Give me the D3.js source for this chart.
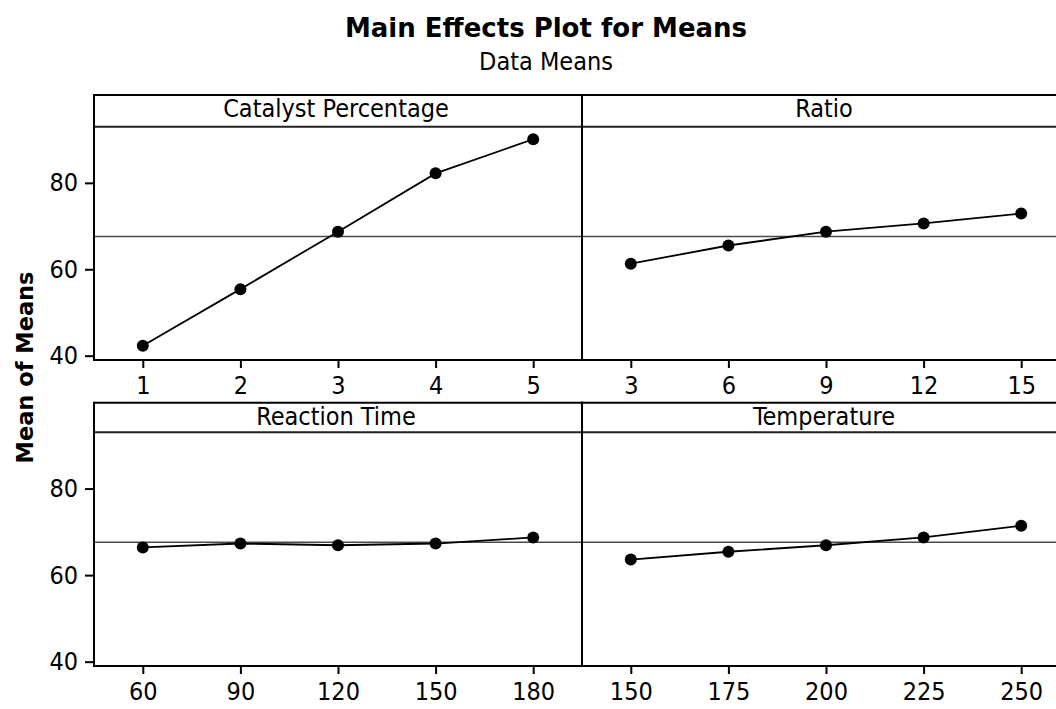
<!DOCTYPE html>
<html>
<head>
<meta charset="utf-8">
<script src="https://cdn.jsdelivr.net/npm/d3@7/dist/d3.min.js"></script>
<style>
  html, body { margin: 0; padding: 0; background: #fff; }
  svg { display: block; }
  .reg { font-family: "DejaVu Sans Condensed", "DejaVu Sans", sans-serif; font-stretch: condensed; }
  .bold { font-family: "DejaVu Sans", sans-serif; font-weight: bold; }
</style>
</head>
<body>
<svg id="chart" width="1056" height="709"></svg>
<script>
// ---- Data ----
const factorNames = ["Catalyst Percentage", "Ratio", "Reaction Time", "Temperature"];
const catalystLevels = ["1", "2", "3", "4", "5"];
const catalystMeans = [42.3, 55.4, 68.7, 82.2, 90.1];
const ratioLevels = ["3", "6", "9", "12", "15"];
const ratioMeans = [61.3, 65.5, 68.7, 70.6, 72.9];
const timeLevels = ["60", "90", "120", "150", "180"];
const timeMeans = [66.4, 67.3, 66.9, 67.3, 68.7];
const tempLevels = ["150", "175", "200", "225", "250"];
const tempMeans = [63.6, 65.4, 66.9, 68.7, 71.4];
const grandMean = [67.6];
const yTickValues = [40, 60, 80];
const yDomain = [39, 93];
const titleText = "Main Effects Plot for Means";
const subtitleText = "Data Means";
const yLabelText = "Mean of Means";

// ---- Layout ----
const panels = [
  { name: factorNames[0], levels: catalystLevels, means: catalystMeans, row: 0, col: 0 },
  { name: factorNames[1], levels: ratioLevels, means: ratioMeans, row: 0, col: 1 },
  { name: factorNames[2], levels: timeLevels, means: timeMeans, row: 1, col: 0 },
  { name: factorNames[3], levels: tempLevels, means: tempMeans, row: 1, col: 1 }
];
const rows = [
  { top: 95, stripBottom: 126.7, bottom: 360, labelY: 117 },
  { top: 402.7, stripBottom: 432.3, bottom: 666, labelY: 425 }
];
const cols = [ { left: 94, right: 582 }, { left: 582, right: 1070 } ];
const regSize = 25;

const svg = d3.select("#chart");

// Title
svg.append("text").attr("class", "bold")
  .attr("x", 546).attr("y", 37).attr("text-anchor", "middle")
  .attr("font-size", 26).attr("fill", "#000").text(titleText);
svg.append("text").attr("class", "reg")
  .attr("x", 546).attr("y", 70).attr("text-anchor", "middle")
  .attr("font-size", regSize).attr("fill", "#000").text(subtitleText);

// Y axis label
svg.append("text").attr("class", "bold")
  .attr("transform", "translate(33,367.5) rotate(-90)")
  .attr("text-anchor", "middle").attr("font-size", 22.5).attr("fill", "#000")
  .text(yLabelText);

const line = d3.line();

panels.forEach(p => {
  const r = rows[p.row], c = cols[p.col];
  const x = d3.scalePoint().domain(p.levels).range([c.left, c.right]).padding(0.5);
  const y = d3.scaleLinear().domain(yDomain).range([r.bottom, r.stripBottom]);
  const g = svg.append("g");

  // strip label
  g.append("text").attr("class", "reg")
    .attr("x", (c.left + c.right) / 2 - 2).attr("y", r.labelY)
    .attr("text-anchor", "middle").attr("font-size", regSize).attr("fill", "#000")
    .text(p.name);

  // reference (grand mean) line
  g.append("line")
    .attr("x1", c.left).attr("x2", c.right)
    .attr("y1", y(grandMean[0])).attr("y2", y(grandMean[0]))
    .attr("stroke", "#4a4a4a").attr("stroke-width", 1.6);

  // data line
  const pts = p.levels.map((lv, i) => [x(lv), y(p.means[i])]);
  g.append("path").attr("d", line(pts)).attr("fill", "none")
    .attr("stroke", "#000").attr("stroke-width", 1.8);
  g.selectAll("circle.pt").data(pts).enter().append("circle")
    .attr("cx", d => d[0]).attr("cy", d => d[1]).attr("r", 6).attr("fill", "#000");

  // x axis
  const xa = g.append("g").attr("transform", `translate(0,${r.bottom})`)
    .call(d3.axisBottom(x).tickSize(8).tickPadding(8).tickSizeOuter(0));
  xa.select(".domain").remove();
  xa.selectAll(".tick line").attr("stroke", "#000").attr("stroke-width", 2);
  xa.selectAll(".tick text").attr("class", "reg").attr("font-size", regSize)
    .attr("font-family", null).attr("fill", "#000");

  // y axis only on left column
  if (p.col === 0) {
    const ya = g.append("g").attr("transform", `translate(${c.left},0)`)
      .call(d3.axisLeft(y).tickValues(yTickValues).tickSize(9).tickPadding(7).tickSizeOuter(0));
    ya.select(".domain").remove();
    ya.selectAll(".tick line").attr("stroke", "#000").attr("stroke-width", 2);
    ya.selectAll(".tick text").attr("class", "reg").attr("font-size", regSize)
      .attr("font-family", null).attr("fill", "#000");
  }

  // frame lines
  const frame = g.append("g").attr("stroke", "#000").attr("stroke-width", 2).attr("fill", "none");
  frame.append("line").attr("x1", c.left).attr("x2", c.right).attr("y1", r.top).attr("y2", r.top);
  frame.append("line").attr("x1", c.left).attr("x2", c.right).attr("y1", r.stripBottom).attr("y2", r.stripBottom).attr("stroke", "#222");
  frame.append("line").attr("x1", c.left).attr("x2", c.right).attr("y1", r.bottom).attr("y2", r.bottom);
  frame.append("line").attr("x1", c.left).attr("x2", c.left).attr("y1", r.top - 1).attr("y2", r.bottom + 1);
  frame.append("line").attr("x1", c.right).attr("x2", c.right).attr("y1", r.top - 1).attr("y2", r.bottom + 1);
});
</script>
</body>
</html>
